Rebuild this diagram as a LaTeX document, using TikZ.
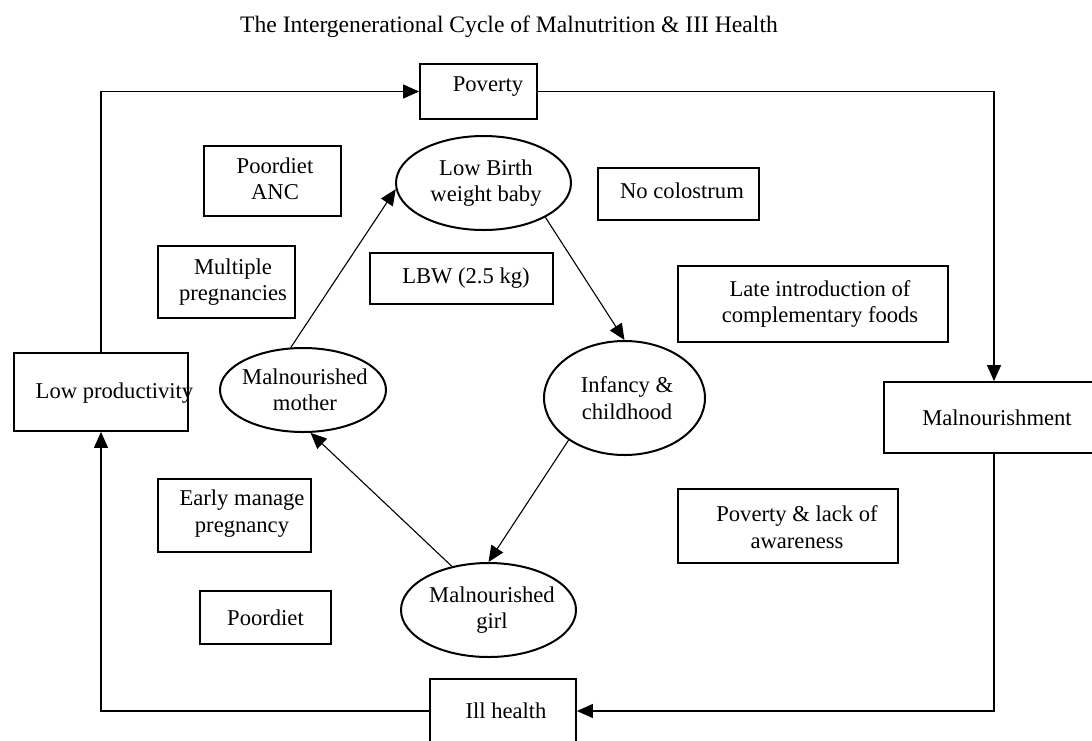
\documentclass[tikz,border=0pt]{standalone}
\usepackage{fontspec}
\setmainfont{Liberation Serif}
\usetikzlibrary{arrows.meta,shapes.geometric}

\tikzset{
  txt/.style={align=center, inner sep=0pt, font=\fontsize{22.6}{26.3}\selectfont},
  tbox/.style={draw, line width=1.8pt, inner sep=0pt},
  cyc/.style={draw, ellipse, line width=2pt, inner sep=0pt},
  conn/.style={line width=1.1pt, -{Triangle[length=16pt,width=14pt]}}
}

\begin{document}
\begin{tikzpicture}[x=1pt, y=-1pt]
  \useasboundingbox (0,0) rectangle (1092,740);
  \clip (0,0) rectangle (1092,740);
  % Title
  \node[txt, font=\fontsize{23.6}{27}\selectfont] (title) at (509,27) {The Intergenerational Cycle of Malnutrition \& III Health};
  % Outer loop boxes
  \node[tbox, minimum width=117pt, minimum height=55pt, label={[txt, xshift=9.5pt, yshift=5pt]center:Poverty}] (poverty) at (478.5,91.5) {};
  \node[tbox, minimum width=220pt, minimum height=71pt, label={[txt, xshift=3pt]center:Malnourishment}] (malnour) at (994,417.5) {};
  \node[tbox, minimum width=146pt, minimum height=64pt, label={[txt, xshift=3pt]center:Ill health}] (illhealth) at (503,711) {};
  \node[tbox, minimum width=174pt, minimum height=78pt, label={[txt, xshift=13.5pt, yshift=-1pt]center:Low productivity}] (lowprod) at (101,392) {};
  % Cause boxes
  \node[tbox, minimum width=137pt, minimum height=70pt, label={[txt, xshift=2.5pt, yshift=2pt]center:Poordiet\\ANC}] (poordietanc) at (272.5,181) {};
  \node[tbox, minimum width=137pt, minimum height=72pt, label={[txt, xshift=6.5pt]center:Multiple\\pregnancies}] (multiple) at (226.5,282) {};
  \node[tbox, minimum width=183pt, minimum height=51pt, label={[txt, xshift=4.5pt]center:LBW (2.5 kg)}] (lbwbox) at (461.5,278.5) {};
  \node[tbox, minimum width=161pt, minimum height=52pt, label={[txt, xshift=3.5pt, yshift=3pt]center:No colostrum}] (colostrum) at (678.5,194) {};
  \node[tbox, minimum width=270pt, minimum height=76pt, label={[txt, xshift=7pt]center:Late introduction of\\complementary foods}] (lateintro) at (813,304) {};
  \node[tbox, minimum width=220pt, minimum height=74pt, label={[txt, xshift=9pt, yshift=-1pt]center:Poverty \& lack of\\awareness}] (povlack) at (788,526) {};
  \node[tbox, minimum width=153pt, minimum height=73pt, label={[txt, xshift=7.5pt, yshift=2pt]center:Early manage\\pregnancy}] (earlymanage) at (234.5,515.5) {};
  \node[tbox, minimum width=131pt, minimum height=53pt, label={[txt]center:Poordiet}] (poordiet) at (265.5,617.5) {};
  % Inner cycle
  \node[cyc, minimum width=175pt, minimum height=94pt, label={[txt, xshift=2.5pt]center:Low Birth\\weight baby}] (lbw) at (483.5,183) {};
  \node[cyc, minimum width=161pt, minimum height=114pt, label={[txt, xshift=2.5pt]center:Infancy \&\\childhood}] (infancy) at (624.5,398) {};
  \node[cyc, minimum width=175pt, minimum height=94pt, label={[txt, xshift=3.5pt]center:Malnourished\\girl}] (girl) at (488.5,610) {};
  \node[cyc, minimum width=166pt, minimum height=84pt, label={[txt, xshift=2pt]center:Malnourished\\mother}] (mother) at (303,390) {};
  % Connectors
  \draw[conn] (lowprod.north) |- (poverty.west);
  \draw[conn] (poverty.east) -| (malnour.north);
  \draw[conn] (malnour.south) |- (illhealth.east);
  \draw[conn] (illhealth.west) -| (lowprod.south);
  \draw[conn] (mother.106) -- (lbw.184);
  \draw[conn] (lbw.331) -- (infancy.north);
  \draw[conn] (infancy.217) -- (girl.north);
  \draw[conn] (girl.130) -- (mother.280);
\end{tikzpicture}
\end{document}
